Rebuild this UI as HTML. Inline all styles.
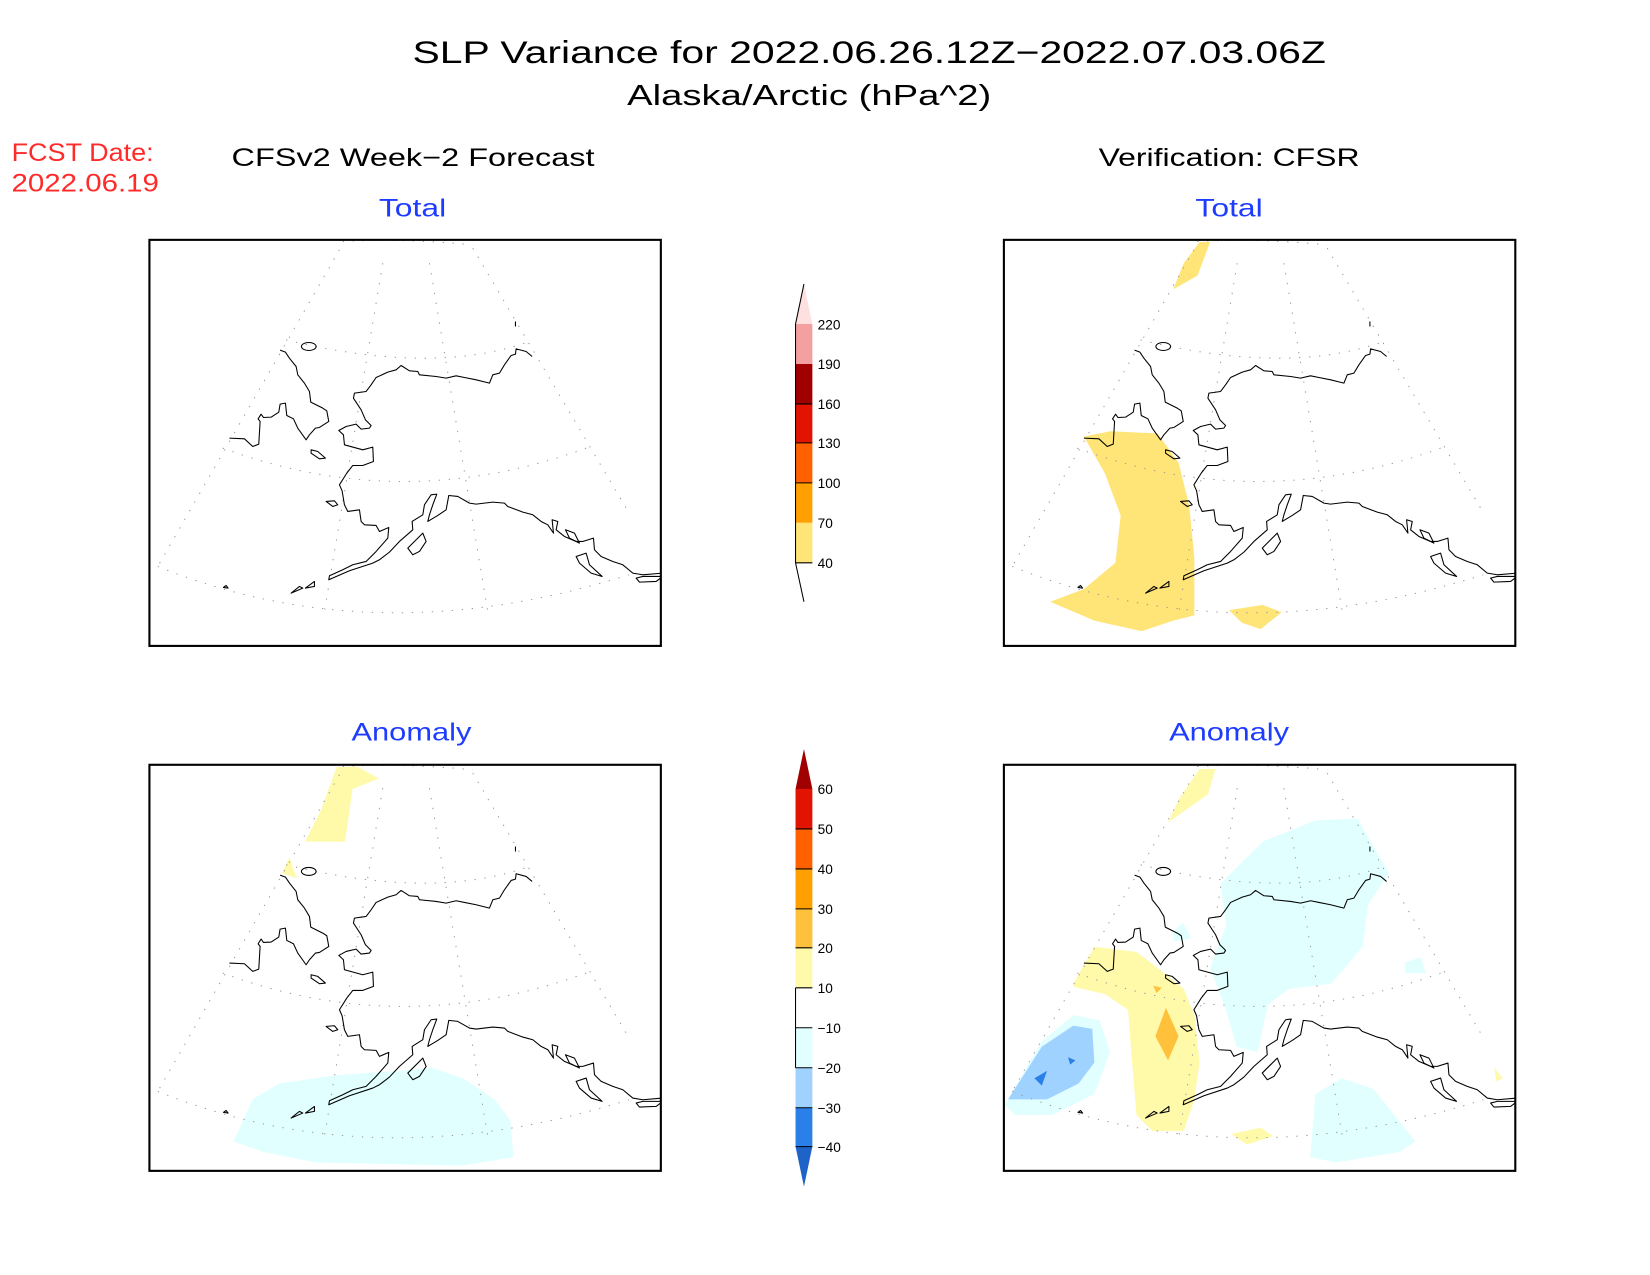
<!DOCTYPE html>
<html><head><meta charset="utf-8"><style>
html,body{margin:0;padding:0;background:#fff;}
svg{display:block;}
text{font-family:"Liberation Sans",sans-serif;}
</style></head><body>
<svg width="1650" height="1275" viewBox="0 0 1568 1212" preserveAspectRatio="none" xmlns="http://www.w3.org/2000/svg">
<defs>
<g id="coast" transform="scale(0.3168) translate(-20,-35)" fill="none" stroke="#000" stroke-width="3.2" stroke-linejoin="round">
<g stroke="#999" stroke-width="3" stroke-dasharray="4,26">
<path d="M590,65 L45,1015"/><path d="M720,105 L545,1150"/><path d="M860,105 L1035,1150"/><path d="M990,60 L1450,840"/>
<path d="M430,335 Q860,440 1145,345"/><path d="M240,660 Q780,860 1330,660"/><path d="M45,1015 Q700,1280 1458,1040"/><path d="M600,40 Q780,30 990,50"/>
</g>
<path d="M260,630 L305,632 L330,655 L348,648 L352,580 L346,572 L355,558 L362,568 L385,567 L408,552 L412,528 L428,525 L432,562 L452,572 L465,600 L490,635 L500,620 L518,600 L530,598 L558,580 L552,548 L540,540 L504,522 L500,490 L485,465 L465,440 L460,415 L440,390 L428,372 L412,366"/>
<ellipse cx="498" cy="355" rx="22" ry="12"/>
<path d="M1168,385 L1150,370 L1120,362 L1118,378 L1105,382 L1085,410 L1070,435 L1050,440 L1040,465 L1000,455 L965,448 L940,443 L910,450 L880,445 L830,440 L825,430 L800,428 L775,412 L760,425 L735,432 L700,448 L685,470 L670,490 L635,495 L632,510 L655,545 L668,575 L685,592 L680,600 L655,603 L640,588 L610,595 L588,607 L602,620 L605,650 L660,665 L690,657 L692,700 L660,712 L630,712 L612,735 L590,770 L598,788 L605,830 L615,850 L650,845 L655,880 L665,890 L700,892 L710,910 L738,898 L735,930 L700,970 L670,1000 L630,1010 L600,1025 L560,1043 L558,1055 L620,1028 L690,1005 L710,995 L740,972 L770,940 L810,905 L808,880 L840,860 L845,830 L865,800 L882,798 L870,830 L860,860 L855,880 L885,862 L910,845 L918,802 L945,805 L980,825 L1000,828 L1050,822 L1085,825 L1095,835 L1140,852 L1170,860 L1195,880 L1215,890 L1232,915 L1228,875 L1245,880 L1240,905 L1265,925 L1300,940 L1320,940 L1352,930 L1355,965 L1375,985 L1410,1000 L1440,1010 L1470,1035 L1500,1040 L1560,1035"/>
<path d="M1480,1050 L1500,1045 L1560,1045 L1540,1060 L1490,1062 Z"/>
<path d="M795,960 L840,915 L850,940 L830,970 L810,980 Z"/>
<path d="M505,665 L525,670 L548,690 L530,692 L505,675 Z"/>
<path d="M550,820 L575,818 L585,830 L570,835 Z"/>
<path d="M242,1078 L250,1072 L256,1080 Z"/>
<path d="M445,1095 L470,1075 L480,1080 Z"/>
<path d="M488,1080 L515,1060 L515,1075 Z"/>
<path d="M1300,985 L1330,975 L1340,1010 L1378,1045 L1345,1035 L1310,1005 Z"/>
<path d="M1268,905 L1295,915 L1310,945 L1280,930 Z"/>
<path d="M1118,280 L1118,295"/>
</g>
</defs>
<rect width="1568" height="1212" fill="#fff"/>
<text x="392" y="60" font-size="30" textLength="868" lengthAdjust="spacingAndGlyphs">SLP Variance for 2022.06.26.12Z−2022.07.03.06Z</text>
<text x="596" y="100" font-size="27" textLength="346" lengthAdjust="spacingAndGlyphs">Alaska/Arctic (hPa^2)</text>
<text x="11" y="153" font-size="24" fill="#ff2a2a" textLength="135" lengthAdjust="spacingAndGlyphs">FCST Date:</text>
<text x="11" y="182" font-size="24" fill="#ff2a2a" textLength="140" lengthAdjust="spacingAndGlyphs">2022.06.19</text>
<text x="220" y="158" font-size="24" textLength="345" lengthAdjust="spacingAndGlyphs">CFSv2 Week−2 Forecast</text>
<text x="1044" y="158" font-size="24" textLength="248" lengthAdjust="spacingAndGlyphs">Verification: CFSR</text>
<g fill="#1e3cff" font-size="24">
<text x="360" y="206" textLength="64" lengthAdjust="spacingAndGlyphs">Total</text>
<text x="1136" y="206" textLength="64" lengthAdjust="spacingAndGlyphs">Total</text>
<text x="334" y="704" textLength="114" lengthAdjust="spacingAndGlyphs">Anomaly</text>
<text x="1111" y="704" textLength="114" lengthAdjust="spacingAndGlyphs">Anomaly</text>
</g>
<svg x="142" y="228" width="486" height="386" viewBox="0 0 486 386">
<use href="#coast"/>
</svg>
<svg x="954" y="228" width="486" height="386" viewBox="0 0 486 386">
<g fill="#ffe478">
<polygon points="76,187 101,182 146,184 166,212 176,252 181,302 181,357 161,362 131,372 86,362 44,344 76,332 106,307 111,262 96,222"/>
<polygon points="186,2 196,2 184,34 161,47 171,22"/>
<polygon points="214,352 246,347 264,354 244,370 226,364"/>
</g>
<use href="#coast"/>
</svg>
<svg x="142" y="727" width="486" height="386" viewBox="0 0 486 386">
<g fill="#fffaaa">
<polygon points="178,2 198,2 218,13 193,23 186,73 148,73 163,43"/>
<polygon points="126,103 133,88 140,108"/>
</g>
<polygon fill="#e1ffff" points="80,358 98,318 123,303 178,295 238,291 268,288 298,298 328,318 343,338 346,373 298,381 158,378 108,368"/>
<use href="#coast"/>
</svg>
<svg x="954" y="727" width="486" height="386" viewBox="0 0 486 386">
<g fill="#e1ffff">
<polygon points="206,113 246,73 296,53 336,51 366,103 346,133 341,173 311,208 271,213 251,228 241,273 221,268 211,233 196,193 211,153"/>
<polygon points="296,313 321,298 351,308 391,358 376,368 316,378 291,373"/>
<polygon points="381,188 396,183 401,198 381,198"/>
<polygon points="160,160 170,150 178,165 162,168"/>
<polygon points="1,323 36,263 66,238 91,243 101,273 86,313 46,333 11,333"/>
</g>
<polygon fill="#a0d2ff" points="4,318 36,268 66,248 84,251 86,283 71,303 41,318"/>
<g fill="#2a80e8">
<polygon points="29,298 41,291 36,305"/>
<polygon points="61,278 68,281 63,285"/>
</g>
<g fill="#fffaaa">
<polygon points="66,208 86,173 126,178 146,193 171,213 181,238 186,283 181,318 171,348 141,348 126,333 121,273 118,233 96,218 66,211"/>
<polygon points="186,4 201,4 194,28 156,55 166,33"/>
<polygon points="216,351 244,345 256,353 231,361"/>
<polygon points="466,288 474,298 468,301"/>
</g>
<polygon fill="#ffc03c" points="154,231 166,258 156,281 144,258"/>
<polygon fill="#ffc03c" points="142,210 150,212 145,217"/>
<use href="#coast"/>
</svg>
<g fill="none" stroke="#000" stroke-width="2">
<rect x="142" y="228" width="486" height="386"/>
<rect x="954" y="228" width="486" height="386"/>
<rect x="142" y="727" width="486" height="386"/>
<rect x="954" y="727" width="486" height="386"/>
</g>
<g>
<polygon points="756,308 764,270 772,308" fill="#ffe0e0"/>
<rect x="756" y="308" width="16" height="38" fill="#f4a0a0"/>
<rect x="756" y="346" width="16" height="38" fill="#a00000"/>
<rect x="756" y="384" width="16" height="37" fill="#e01400"/>
<rect x="756" y="421" width="16" height="38" fill="#ff6000"/>
<rect x="756" y="459" width="16" height="38" fill="#ffa000"/>
<rect x="756" y="497" width="16" height="38" fill="#ffe478"/>
<path d="M756,308 L764,270 M756,308 V535 L764,572" fill="none" stroke="#000" stroke-width="1"/>
<g stroke="#000" stroke-width="1"><path d="M756,384 H772 M756,421 H772 M756,459 H772 M756,535 H772"/></g>
<g font-size="13">
<text x="777" y="313">220</text><text x="777" y="351">190</text><text x="777" y="389">160</text><text x="777" y="426">130</text><text x="777" y="464">100</text><text x="777" y="502">70</text><text x="777" y="540">40</text>
</g>
</g>
<g>
<polygon points="756,750 764,712 772,750" fill="#a00000"/>
<rect x="756" y="750" width="16" height="38" fill="#e01400"/>
<rect x="756" y="788" width="16" height="38" fill="#ff6000"/>
<rect x="756" y="826" width="16" height="38" fill="#ffa000"/>
<rect x="756" y="864" width="16" height="37" fill="#ffc03c"/>
<rect x="756" y="901" width="16" height="38" fill="#fffaaa"/>
<rect x="756" y="939" width="16" height="38" fill="#ffffff"/>
<rect x="756" y="977" width="16" height="38" fill="#e1ffff"/>
<rect x="756" y="1015" width="16" height="38" fill="#a0d2ff"/>
<rect x="756" y="1053" width="16" height="37" fill="#2a80e8"/>
<polygon points="756,1090 764,1128 772,1090" fill="#1e64c8"/>
<g stroke="#000" stroke-width="1"><path d="M756,788 H772 M756,826 H772 M756,864 H772 M756,901 H772 M756,939 H772 M756,977 H772 M756,1015 H772 M756,1053 H772 M756,1090 H772 M756,939 V1015"/></g>
<g font-size="13">
<text x="777" y="755">60</text><text x="777" y="793">50</text><text x="777" y="831">40</text><text x="777" y="869">30</text><text x="777" y="906">20</text><text x="777" y="944">10</text><text x="777" y="982">−10</text><text x="777" y="1020">−20</text><text x="777" y="1058">−30</text><text x="777" y="1095">−40</text>
</g>
</g>
</svg>
</body></html>
